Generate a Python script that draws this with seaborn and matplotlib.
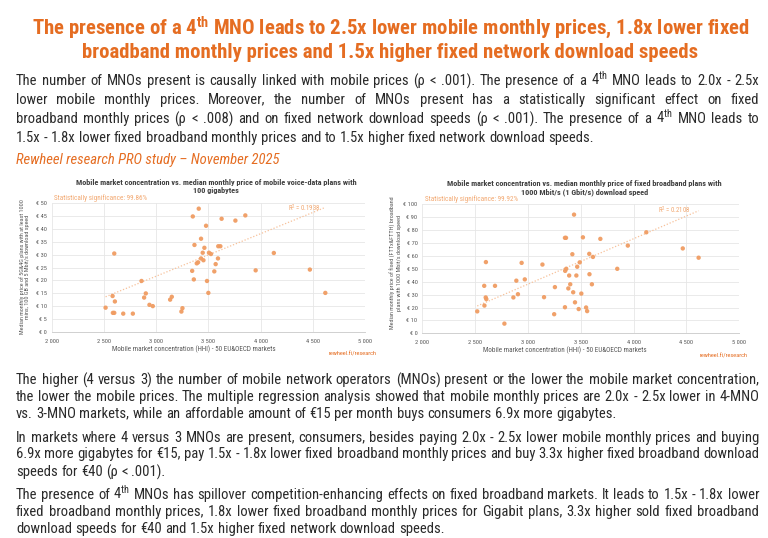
import math
import matplotlib
matplotlib.use("Agg")
import matplotlib.pyplot as plt
import seaborn as sns
import pandas as pd
from matplotlib import font_manager as fm

# ---------------- data ----------------
mobile_hhi = [2516, 2583, 2599, 2605, 2586, 2599, 2685, 2777, 2860, 2885,
              2901, 2936, 2968, 3134, 3150, 3242, 3252, 3345, 3351, 3361,
              3367, 3389, 3402, 3408, 3430, 3430, 3446, 3453, 3462, 3478,
              3487, 3500, 3506, 3525, 3557, 3570, 3592, 3595, 3615, 3627,
              3759, 3854, 3953, 4127, 4472, 4620]
mobile_price = [9.5, 14.0, 30.4, 11.9, 7.5, 7.5, 7.2, 7.2, 19.8, 13.4,
                15.0, 10.6, 10.1, 12.6, 13.7, 8.0, 9.3, 23.7, 44.7, 20.4,
                33.7, 26.6, 27.0, 47.7, 36.1, 28.5, 30.7, 27.8, 32.6, 41.1,
                19.8, 15.2, 30.7, 30.2, 23.5, 26.3, 28.5, 33.2, 33.2, 43.8,
                43.1, 45.1, 23.9, 30.6, 24.2, 15.2]
# Excel linear trendline (all 50 markets), end points
mobile_trend_hhi = [2516, 4620]
mobile_trend_price = [13.7, 48.2]

fixed_hhi = [2520, 2588, 2586, 2602, 2600, 2606, 2688, 2777, 2862, 2890,
             2905, 2940, 2970, 3137, 3152, 3248, 3255, 3350, 3350, 3360,
             3352, 3362, 3382, 3390, 3400, 3420, 3428, 3436, 3445, 3458,
             3466, 3480, 3490, 3505, 3520, 3550, 3560, 3580, 3582, 3605,
             3615, 3685, 3845, 3945, 4120, 4465, 4615]
fixed_price = [17.0, 21.5, 36.8, 55.2, 27.8, 26.5, 36.8, 7.5, 27.8, 40.8,
               30.3, 54.6, 41.8, 53.3, 28.0, 14.8, 35.8, 20.2, 74.0, 74.0,
               48.4, 50.0, 34.8, 44.8, 38.0, 61.3, 31.8, 92.0, 24.0, 44.8,
               51.6, 18.8, 55.0, 30.8, 74.4, 20.0, 17.2, 61.6, 45.8, 38.0,
               59.2, 73.2, 50.0, 68.0, 78.3, 65.8, 58.6]
fixed_trend_hhi = [2520, 4615]
fixed_trend_price = [21.2, 95.0]

x_ticks = [2000, 2500, 3000, 3500, 4000, 4500, 5000]
x_tick_labels = ["2 000", "2 500", "3 000", "3 500", "4 000", "4 500", "5 000"]
mobile_y_ticks = [0, 5, 10, 15, 20, 25, 30, 35, 40, 45, 50]
mobile_y_labels = ["€ 0", "€ 5", "€ 10", "€ 15", "€ 20", "€ 25", "€ 30", "€ 35", "€ 40", "€ 45", "€ 50"]
fixed_y_ticks = [0, 10, 20, 30, 40, 50, 60, 70, 80, 90, 100]
fixed_y_labels = ["€ 0", "€ 10", "€ 20", "€ 30", "€ 40", "€ 50", "€ 60", "€ 70", "€ 80", "€ 90", "€ 100"]

title_lines = [
    "The presence of a 4$^{\\mathbf{th}}$ MNO leads to 2.5x lower mobile monthly prices, 1.8x lower fixed",
    "broadband monthly prices and 1.5x higher fixed network download speeds",
]
intro_lines = [
    "The number of MNOs present is causally linked with mobile prices (ρ < .001). The presence of a 4$^{\\mathrm{th}}$ MNO leads to 2.0x - 2.5x",
    "lower mobile monthly prices. Moreover, the number of MNOs present has a statistically significant effect on fixed",
    "broadband monthly prices (ρ < .008) and on fixed network download speeds (ρ < .001). The presence of a 4$^{\\mathrm{th}}$ MNO leads to",
    "1.5x - 1.8x lower fixed broadband monthly prices and to 1.5x higher fixed network download speeds.",
]
source_line = "Rewheel research PRO study – November 2025"
bottom_pars = [
    ["The higher (4 versus 3) the number of mobile network operators (MNOs) present or the lower the mobile market concentration,",
     "the lower the mobile prices. The multiple regression analysis showed that mobile monthly prices are 2.0x - 2.5x lower in 4-MNO",
     "vs. 3-MNO markets, while an affordable amount of €15 per month buys consumers 6.9x more gigabytes."],
    ["In markets where 4 versus 3 MNOs are present, consumers, besides paying 2.0x - 2.5x lower mobile monthly prices and buying",
     "6.9x more gigabytes for €15, pay 1.5x - 1.8x lower fixed broadband monthly prices and buy 3.3x higher fixed broadband download",
     "speeds for €40 (ρ < .001)."],
    ["The presence of 4$^{\\mathrm{th}}$ MNOs has spillover competition-enhancing effects on fixed broadband markets. It leads to 1.5x - 1.8x lower",
     "fixed broadband monthly prices, 1.8x lower fixed broadband monthly prices for Gigabit plans, 3.3x higher sold fixed broadband",
     "download speeds for €40 and 1.5x higher fixed network download speeds."],
]
chart1_title = ["Mobile market concentration vs. median monthly price of mobile voice-data plans with",
                "100 gigabytes"]
chart2_title = ["Mobile market concentration vs. median monthly price of fixed broadband plans with",
                "1000 Mbit/s (1 Gbit/s) download speed"]
chart1_ylabel = ["Median monthly price of 5G&4G plans with at least 1000",
                 "mins, 100 GB and 5 Mbit/s download speed"]
chart2_ylabel = ["Median monthly price of fixed (FTTx&FTTH) broadband",
                 "plans with 1000 Mbit/s download speed"]
xlabel_text = "Mobile market concentration (HHI) - 50 EU&OECD markets"
signif = ["Statistically significance: 99.86%", "Statistically significance: 99.92%"]
r2_text = ["R$^2$ = 0.1938", "R$^2$ = 0.2108"]
credit = "rewheel.fi/research"

# ---------------- style ----------------
sns.set_theme(style="white")


def have(f):
    try:
        fm.findfont(fm.FontProperties(family=f), fallback_to_default=False)
        return True
    except Exception:
        return False


NARROW = next((f for f in ["Liberation Sans Narrow", "Roboto Condensed", "Liberation Sans"] if have(f)), "DejaVu Sans")
FAM = [NARROW, "DejaVu Sans"]
plt.rcParams["font.family"] = FAM
plt.rcParams["mathtext.fontset"] = "custom"
plt.rcParams["mathtext.rm"] = NARROW
plt.rcParams["mathtext.bf"] = NARROW + ":bold"
plt.rcParams["mathtext.it"] = NARROW + ":italic"

ORANGE = "#E56D22"
LIGHT_OR = "#F2A76F"
DOT = "#F09C62"
TXT = "#2A2A2A"
GREY = "#595959"

W, H = 768, 538
fig = plt.figure(figsize=(W / 100, H / 100), dpi=100)
fig.patch.set_facecolor("white")
renderer = fig.canvas.get_renderer()


def ptext(x, y, s, **kw):
    return fig.text(x / W, 1 - y / H, s, **kw)


def wid(t):
    return t.get_window_extent(renderer).width


def fit(t, target):
    t.set_fontsize(t.get_fontsize() * target / wid(t))
    return t.get_fontsize()


def snap_baseline(t, ybase):
    """Place a single-line baseline text so that its glyph baseline lands on pixel row ybase."""
    s = t.get_text()
    if "$" in s:
        t.set_y(1 - ybase / H)
        return
    _, h, d = renderer.get_text_width_height_descent(s, t.get_fontproperties(), ismath=False)
    T = ybase + math.floor(h) - math.floor(h - d)
    t.set_y(1 - (T - d) / H)


# ---------------- title ----------------
t = ptext(390.5, 34, title_lines[0], fontsize=13, fontweight="bold", color=ORANGE, ha="center", va="baseline")
tsize = fit(t, 715)
ptext(390.5, 58, title_lines[1], fontsize=tsize, fontweight="bold", color=ORANGE, ha="center", va="baseline")


# ---------------- justified paragraphs ----------------
def natural(line, size):
    words = line.split(" ")
    ts = [ptext(0, 0, w, fontsize=size) for w in words]
    ws = [wid(x) for x in ts]
    for x in ts:
        x.remove()
    return ws


def space_w(size):
    a = ptext(0, 0, "a a", fontsize=size)
    b = ptext(0, 0, "aa", fontsize=size)
    s = wid(a) - wid(b)
    a.remove()
    b.remove()
    return s


X0, X1 = 16, 759
base = 10
sp = space_w(base)
ratios = []
for par in [intro_lines] + bottom_pars:
    for line in par[:-1]:
        ws = natural(line, base)
        ratios.append((X1 - X0) / (sum(ws) + sp * (len(ws) - 1)))
BODY = base * min(ratios) * 0.995
SP = space_w(BODY)


def draw_par(lines, y0, step):
    for i, line in enumerate(lines):
        yb = round(y0 + i * step)
        words = line.split(" ")
        ts = [ptext(0, yb, w, fontsize=BODY, color=TXT, ha="left", va="baseline") for w in words]
        ws = [wid(x) for x in ts]
        if i == len(lines) - 1:
            gap = SP
        else:
            gap = (X1 - X0 - sum(ws)) / (len(words) - 1)
        x = X0
        for tt, w in zip(ts, ws):
            tt.set_x(x / W)
            snap_baseline(tt, yb)
            x += w + gap


draw_par(intro_lines, 85, 19)
src = ptext(X0, 164, source_line, fontsize=BODY, color=ORANGE, style="italic", ha="left", va="baseline")

step_b, gap_b = 17, 23.5
y = 384
for par in bottom_pars:
    draw_par(par, y, step_b)
    y += step_b * (len(par) - 1) + gap_b

# ---------------- charts ----------------
TICK = 4.6


def chart(rect, hx, py, tx, ty, yt, ytl, ymax):
    ax = fig.add_axes([rect[0] / W, 1 - rect[3] / H, (rect[2] - rect[0]) / W, (rect[3] - rect[1]) / H])
    df = pd.DataFrame({"hhi": hx, "price": py})
    trend = pd.DataFrame({"hhi": tx, "price": ty})
    sns.lineplot(data=trend, x="hhi", y="price", ax=ax, color="#F7C19A", lw=0.9,
                 linestyle=(0, (1, 1.5)), zorder=2)
    sns.scatterplot(data=df, x="hhi", y="price", ax=ax, color=DOT, s=10, edgecolor="none", alpha=0.95, zorder=3)
    ax.set_xlim(2000, 5000)
    ax.set_ylim(0, ymax)
    ax.set_xticks(x_ticks)
    ax.set_xticklabels(x_tick_labels)
    ax.set_yticks(yt)
    ax.set_yticklabels(ytl)
    ax.grid(True, color="#E6E6E6", lw=0.6)
    ax.set_axisbelow(True)
    for k in ["top", "right", "left"]:
        ax.spines[k].set_visible(False)
    ax.spines["bottom"].set_color("#D0D0D0")
    ax.spines["bottom"].set_linewidth(0.7)
    ax.tick_params(axis="both", length=0, labelsize=TICK, colors=GREY)
    ax.tick_params(axis="x", pad=5)
    ax.tick_params(axis="y", pad=3.5)
    ax.set_xlabel("")
    ax.set_ylabel("")
    ax.set_facecolor("white")
    return ax


ax1 = chart((51.7, 202.7, 365, 332.3), mobile_hhi, mobile_price, mobile_trend_hhi, mobile_trend_price,
            mobile_y_ticks, mobile_y_labels, 50)
ax2 = chart((422.3, 204.3, 739.3, 333.3), fixed_hhi, fixed_price, fixed_trend_hhi, fixed_trend_price,
            fixed_y_ticks, fixed_y_labels, 100)

# chart titles
c1 = ptext(216, 184.5, chart1_title[0], fontsize=5, fontweight="bold", color="#404040", ha="center", va="baseline")
cs = fit(c1, 283)
ptext(216, 192.5, chart1_title[1], fontsize=cs, fontweight="bold", color="#404040", ha="center", va="baseline")
ptext(584.7, 186, chart2_title[0], fontsize=cs, fontweight="bold", color="#404040", ha="center", va="baseline")
ptext(584.7, 194, chart2_title[1], fontsize=cs, fontweight="bold", color="#404040", ha="center", va="baseline")

# significance, R2
s1 = ptext(54, 199.5, signif[0], fontsize=5, color=LIGHT_OR, ha="left", va="baseline")
ss = fit(s1, 92.7)
ptext(425, 200.5, signif[1], fontsize=ss, color=LIGHT_OR, ha="left", va="baseline")
ptext(287.7, 211.5, r2_text[0], fontsize=ss * 0.95, color=LIGHT_OR, ha="left", va="baseline")
ptext(658.3, 213.5, r2_text[1], fontsize=ss * 0.95, color=LIGHT_OR, ha="left", va="baseline")

# x labels
xl = ptext(193.8, 351.5, xlabel_text, fontsize=5, color=GREY, ha="center", va="baseline")
xs = fit(xl, 164)
ptext(565, 352.5, xlabel_text, fontsize=xs, color=GREY, ha="center", va="baseline")

# y labels
ya = ptext(21.7, 266.5, chart1_ylabel[0], fontsize=5, color=GREY, ha="center", va="center", rotation=90)
ya.set_fontsize(5 * 137 / ya.get_window_extent(renderer).height)
ys = ya.get_fontsize()
ptext(27.9, 266.5, chart1_ylabel[1], fontsize=ys, color=GREY, ha="center", va="center", rotation=90)
ptext(393.3, 263, chart2_ylabel[0], fontsize=ys, color=GREY, ha="center", va="center", rotation=90)
ptext(399.7, 263, chart2_ylabel[1], fontsize=ys, color=GREY, ha="center", va="center", rotation=90)

# credit
cr = ptext(376.7, 356, credit, fontsize=5, color=ORANGE, ha="right", va="baseline")
crs = fit(cr, 50)
ptext(747.7, 357.5, credit, fontsize=crs, color=ORANGE, ha="right", va="baseline")

fig.savefig("out.png", dpi=100, facecolor="white")
